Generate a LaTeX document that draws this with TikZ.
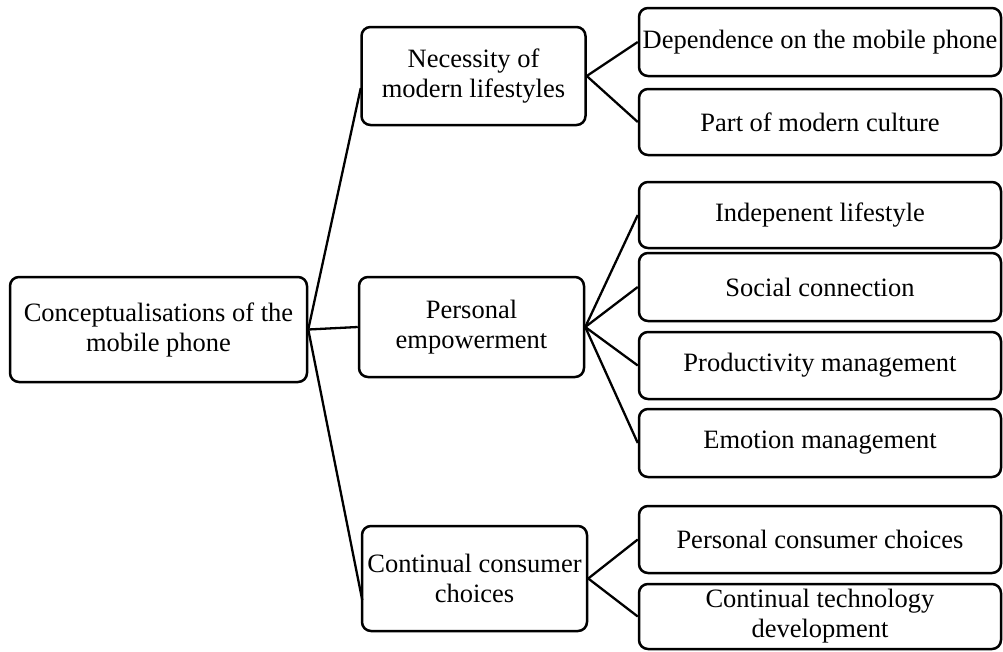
\documentclass[tikz,border=0pt]{standalone}
\usepackage{fontspec}
\setmainfont{Liberation Serif}
\usetikzlibrary{calc}

\tikzset{
  box/.style={draw=black, line width=2.5pt, rounded corners=9pt, fill=white,
    inner sep=0pt, align=center, font=\fontsize{26.5}{30}\selectfont},
  rootbox/.style={box, minimum width=297pt, minimum height=105pt},
  midbox/.style={box, minimum width=224pt, minimum height=100pt},
  leafbox/.style={box, minimum width=362pt, minimum height=67pt},
  link/.style={draw=black, line width=2.3pt}
}

\begin{document}
\begin{tikzpicture}[x=1pt, y=-1pt]
  \useasboundingbox (0,0) rectangle (1003,651);

  % root
  \node[rootbox] (root) at (158.5,329.5) {Conceptualisations of the\\mobile phone};

  % second level
  \node[midbox, minimum height=98pt] (nec) at (473.5,76) {Necessity of\\modern lifestyles};
  \node[midbox, minimum width=225pt] (pers) at (471.5,327) {Personal\\empowerment};
  \node[midbox, minimum width=225pt, minimum height=105pt] (cont) at (474.5,578.5) {Continual consumer\\choices};

  % third level
  \node[leafbox, minimum height=68pt] (dep) at (820,42) {Dependence on the mobile phone};
  \node[leafbox, minimum height=66pt] (part) at (820,122) {Part of modern culture};
  \node[leafbox, minimum height=66pt] (indep) at (820,215) {Indepenent lifestyle};
  \node[leafbox, minimum height=68pt] (social) at (820,287) {Social connection};
  \node[leafbox] (prod) at (820,365.5) {Productivity management};
  \node[leafbox, minimum height=68pt] (emo) at (820,443) {Emotion management};
  \node[leafbox] (pcc) at (820,539.5) {Personal consumer choices};
  \node[leafbox, minimum height=65pt] (ctd) at (820,616.5) {Continual technology\\development};

  % connectors from the root
  \draw[link] (root.east) -- ($(nec.west)+(0.5,12)$);
  \draw[link] (root.east) -- (pers.west);
  \draw[link] (root.east) -- ($(cont.west)+(1.5,21.5)$);

  % connectors to the leaves
  \draw[link] (nec.east) -- (dep.west);
  \draw[link] (nec.east) -- (part.west);
  \draw[link] (pers.east) -- (indep.west);
  \draw[link] (pers.east) -- (social.west);
  \draw[link] (pers.east) -- (prod.west);
  \draw[link] (pers.east) -- (emo.west);
  \draw[link] (cont.east) -- (pcc.west);
  \draw[link] (cont.east) -- (ctd.west);
\end{tikzpicture}
\end{document}
